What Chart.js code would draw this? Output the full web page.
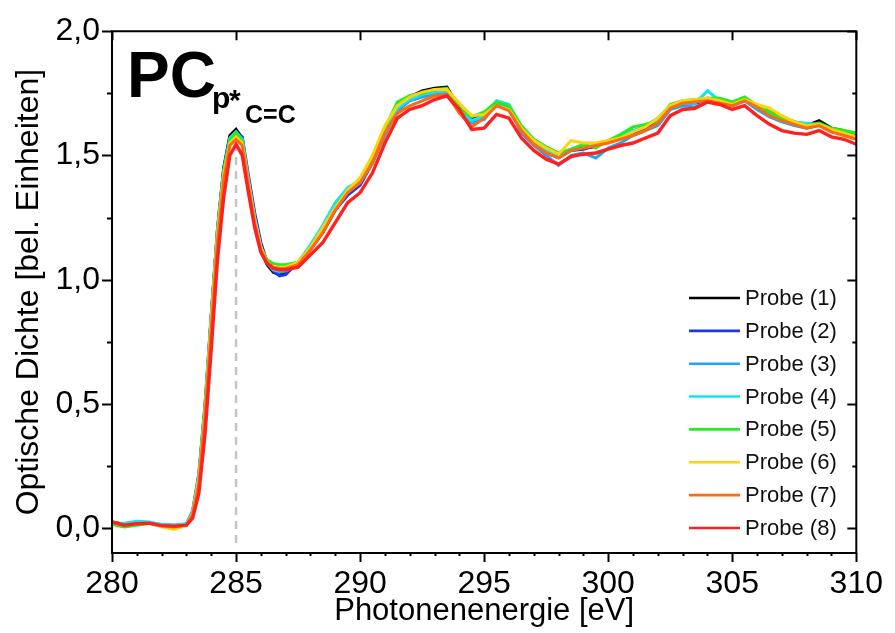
<!DOCTYPE html>
<html><head><meta charset="utf-8">
<script src="https://cdn.jsdelivr.net/npm/chart.js@4.4.0/dist/chart.umd.min.js"></script>
<style>html,body{margin:0;padding:0;background:#fff}canvas{display:block}</style>
</head><body>
<canvas id="c" width="895" height="633"></canvas>
<script>
// ---------- data ----------
const energies = [280,280.5,281,281.5,282,282.5,283,
  283.25,283.5,283.75,284,284.25,284.5,284.75,285,285.25,285.5,285.75,286,286.25,286.5,286.75,287,
  287.5,288,288.5,289,289.5,290,290.5,291,291.5,292,292.5,293,293.5,294,294.5,295,295.5,296,296.5,297,297.5,298,298.5,299,299.5,300,300.5,301,301.5,302,302.5,303,303.5,304,304.5,305,305.5,306,306.5,307,307.5,308,308.5,309,309.5,310];

const probe1 = [0.025,0.015,0.02,0.022,0.012,0.01,0.015,
  0.06,0.2,0.48,0.85,1.2,1.45,1.58,1.605,1.57,1.38,1.23,1.12,1.06,1.03,1.02,1.03,
  1.06,1.12,1.19,1.28,1.35,1.39,1.48,1.60,1.70,1.735,1.76,1.77,1.775,1.69,1.645,1.665,1.71,1.69,1.61,1.555,1.525,1.50,1.52,1.53,1.535,1.56,1.575,1.60,1.605,1.64,1.70,1.715,1.72,1.73,1.725,1.71,1.73,1.70,1.675,1.655,1.635,1.62,1.64,1.61,1.60,1.585];
const probe2 = [0.022,0.015,0.018,0.02,0.014,0.012,0.016,
  0.07,0.22,0.5,0.86,1.2,1.44,1.56,1.59,1.575,1.42,1.27,1.15,1.07,1.035,1.015,1.02,
  1.07,1.13,1.2,1.28,1.34,1.38,1.47,1.59,1.695,1.74,1.75,1.76,1.765,1.69,1.64,1.66,1.715,1.70,1.60,1.55,1.51,1.49,1.52,1.525,1.54,1.555,1.57,1.59,1.61,1.635,1.695,1.71,1.71,1.72,1.725,1.70,1.725,1.69,1.665,1.645,1.625,1.615,1.625,1.60,1.585,1.58];
const probe3 = [0.02,0.018,0.025,0.02,0.015,0.01,0.015,
  0.065,0.21,0.49,0.85,1.19,1.43,1.56,1.585,1.565,1.40,1.25,1.13,1.065,1.04,1.03,1.035,
  1.06,1.12,1.2,1.29,1.36,1.39,1.47,1.58,1.68,1.72,1.735,1.745,1.75,1.68,1.63,1.645,1.705,1.69,1.59,1.54,1.50,1.46,1.50,1.51,1.49,1.53,1.55,1.58,1.60,1.62,1.685,1.70,1.695,1.715,1.72,1.70,1.72,1.685,1.655,1.635,1.62,1.61,1.62,1.595,1.585,1.575];
const probe4 = [0.02,0.02,0.028,0.025,0.015,0.012,0.018,
  0.065,0.21,0.49,0.86,1.2,1.44,1.57,1.595,1.565,1.40,1.25,1.13,1.065,1.04,1.035,1.04,
  1.07,1.14,1.22,1.31,1.37,1.40,1.48,1.59,1.69,1.725,1.745,1.755,1.76,1.68,1.64,1.66,1.72,1.705,1.61,1.56,1.52,1.495,1.52,1.535,1.54,1.555,1.58,1.60,1.62,1.65,1.70,1.71,1.71,1.76,1.72,1.705,1.725,1.695,1.665,1.645,1.635,1.63,1.625,1.60,1.59,1.575];
const probe5 = [0.015,0.005,0.012,0.02,0.008,0.005,0.01,
  0.06,0.2,0.48,0.84,1.19,1.43,1.56,1.59,1.56,1.39,1.24,1.13,1.08,1.065,1.06,1.06,
  1.07,1.13,1.2,1.29,1.36,1.40,1.49,1.61,1.715,1.74,1.75,1.765,1.77,1.69,1.655,1.675,1.715,1.70,1.62,1.565,1.535,1.51,1.525,1.545,1.53,1.56,1.585,1.615,1.625,1.64,1.705,1.72,1.725,1.73,1.73,1.715,1.735,1.70,1.675,1.65,1.635,1.62,1.63,1.61,1.60,1.59];
const probe6 = [0.02,0.012,0.018,0.02,0.005,-0.005,0.012,
  0.06,0.2,0.47,0.84,1.18,1.42,1.55,1.575,1.55,1.39,1.24,1.13,1.07,1.05,1.05,1.05,
  1.07,1.13,1.21,1.29,1.36,1.41,1.50,1.62,1.70,1.735,1.755,1.765,1.765,1.71,1.66,1.665,1.70,1.685,1.61,1.56,1.53,1.505,1.56,1.55,1.55,1.56,1.57,1.595,1.615,1.65,1.70,1.72,1.725,1.73,1.72,1.705,1.725,1.705,1.69,1.66,1.635,1.62,1.625,1.605,1.59,1.575];
const probe7 = [0.022,0.012,0.018,0.02,0.01,0.005,0.012,
  0.055,0.18,0.45,0.8,1.15,1.40,1.54,1.565,1.54,1.38,1.23,1.12,1.07,1.05,1.045,1.045,
  1.06,1.12,1.19,1.28,1.35,1.39,1.47,1.59,1.67,1.70,1.72,1.74,1.745,1.67,1.615,1.65,1.70,1.68,1.60,1.545,1.51,1.49,1.52,1.53,1.54,1.55,1.565,1.58,1.60,1.63,1.69,1.71,1.715,1.72,1.71,1.70,1.72,1.695,1.66,1.64,1.625,1.61,1.62,1.595,1.58,1.565];
const probe8 = [0.025,0.012,0.018,0.02,0.01,0.008,0.012,
  0.04,0.14,0.38,0.72,1.08,1.33,1.50,1.545,1.50,1.35,1.21,1.11,1.065,1.045,1.04,1.04,
  1.05,1.10,1.15,1.23,1.31,1.35,1.43,1.55,1.65,1.685,1.70,1.725,1.74,1.685,1.605,1.61,1.665,1.65,1.57,1.52,1.485,1.465,1.495,1.505,1.51,1.525,1.54,1.55,1.57,1.59,1.66,1.685,1.69,1.715,1.705,1.685,1.70,1.66,1.625,1.60,1.59,1.585,1.60,1.575,1.565,1.545];

const seriesNames = ['Probe (1)','Probe (2)','Probe (3)','Probe (4)','Probe (5)','Probe (6)','Probe (7)','Probe (8)'];
const seriesValues = [probe1,probe2,probe3,probe4,probe5,probe6,probe7,probe8];
const seriesColors = ['#000000','#1c35f5','#22a4f8','#10e4fa','#22ee22','#ffd20a','#ff6a10','#ff2020'];

const xTicks = [280,285,290,295,300,305,310];
const yTicks = [0,0.5,1.0,1.5,2.0];
const markerX = [285,285];
const markerY = [-0.06,1.63];

// ---------- chart ----------
const FONT = "'Liberation Sans', Arial, sans-serif";

const datasets = seriesValues.map((vals,i)=>({
  label: seriesNames[i],
  data: energies.map((e,j)=>({x:e,y:vals[j]})),
  borderColor: seriesColors[i],
  backgroundColor: seriesColors[i],
  borderWidth: i===7 ? 3.4 : 3,
  pointRadius: 0,
  tension: 0,
  fill: false,
  order: seriesValues.length - i
}));
datasets.push({
  label: 'marker',
  data: markerX.map((x,i)=>({x, y: markerY[i]})),
  borderColor: '#c4c4c4',
  borderWidth: 2.5,
  borderDash: [8,6],
  pointRadius: 0,
  order: 20
});

const decor = {
  id: 'decor',
  afterDatasetsDraw(chart){
    const {ctx, chartArea:a, scales:{x,y}} = chart;
    ctx.save();
    ctx.strokeStyle = '#000';
    ctx.lineWidth = 2;
    ctx.beginPath();
    ctx.rect(a.left, a.top, a.right-a.left, a.bottom-a.top);
    ctx.stroke();
    ctx.beginPath();
    // x ticks
    for (let v = x.min; v <= x.max + 1e-9; v += 1) {
      const px = Math.round(x.getPixelForValue(v)) + 0.5;
      const major = xTicks.includes(v);
      ctx.moveTo(px, a.bottom); ctx.lineTo(px, a.bottom + (major ? 9 : 3));
      if (major) { ctx.moveTo(px, a.top); ctx.lineTo(px, a.top + 9); }
    }
    // y ticks
    for (let k = 0; k <= 8; k++) {
      const v = k * 0.25;
      const py = Math.round(y.getPixelForValue(v)) + 0.5;
      const major = k % 2 === 0;
      ctx.moveTo(a.left, py); ctx.lineTo(a.left - (major ? 10 : 5), py);
      ctx.moveTo(a.right, py); ctx.lineTo(a.right - (major ? 9 : 4), py);
    }
    ctx.stroke();

    // annotation
    ctx.fillStyle = '#000';
    ctx.textBaseline = 'alphabetic';
    ctx.textAlign = 'left';
    ctx.font = 'bold 64px ' + FONT;
    ctx.fillText('PC', 127, 97);
    ctx.font = 'bold 30px ' + FONT;
    ctx.fillText('p', 212, 108);
    ctx.fillText('*', 229, 110);
    ctx.font = 'bold 25px ' + FONT;
    ctx.fillText('C=C', 245, 123);

    // legend
    ctx.font = '22px ' + FONT;
    ctx.textBaseline = 'middle';
    seriesNames.forEach((n,i)=>{
      const yy = 298 + i*32.85;
      ctx.strokeStyle = seriesColors[i];
      ctx.lineWidth = 2.6;
      ctx.beginPath(); ctx.moveTo(689, yy); ctx.lineTo(740, yy); ctx.stroke();
      ctx.fillStyle = '#111';
      ctx.fillText(n, 745, yy + 1);
    });
    ctx.restore();
  }
};

new Chart(document.getElementById('c'), {
  type: 'line',
  data: { datasets },
  options: {
    responsive: false,
    animation: false,
    devicePixelRatio: 1,
    layout: { padding: { top: 28, right: 37, left: 0, bottom: 0 } },
    plugins: { legend: { display: false }, tooltip: { enabled: false } },
    scales: {
      x: {
        type: 'linear', min: 280, max: 310,
        grid: { display: false, drawTicks: false },
        border: { display: false },
        afterBuildTicks: s => { s.ticks = xTicks.map(v=>({value:v})); },
        afterFit: s => { s.height = 80; },
        ticks: { color: '#000', font: { family: FONT, size: 32 }, padding: 12, maxRotation: 0,
          callback: v => String(v) },
        title: { display: true, text: 'Photonenenergie [eV]', color: '#000',
          font: { family: FONT, size: 31 }, padding: { top: 0, bottom: 3 } }
      },
      y: {
        type: 'linear', min: -0.1, max: 2.0,
        grid: { display: false, drawTicks: false },
        border: { display: false },
        afterBuildTicks: s => { s.ticks = yTicks.map(v=>({value:v})); },
        afterFit: s => { s.width = 112; },
        ticks: { color: '#000', font: { family: FONT, size: 32 }, padding: 12,
          callback: v => v.toFixed(1).replace('.', ',') },
        title: { display: true, text: 'Optische Dichte [bel. Einheiten]', color: '#000',
          font: { family: FONT, size: 32 }, padding: { top: 10, bottom: 0 } }
      }
    }
  },
  plugins: [decor]
});
</script>
</body></html>
